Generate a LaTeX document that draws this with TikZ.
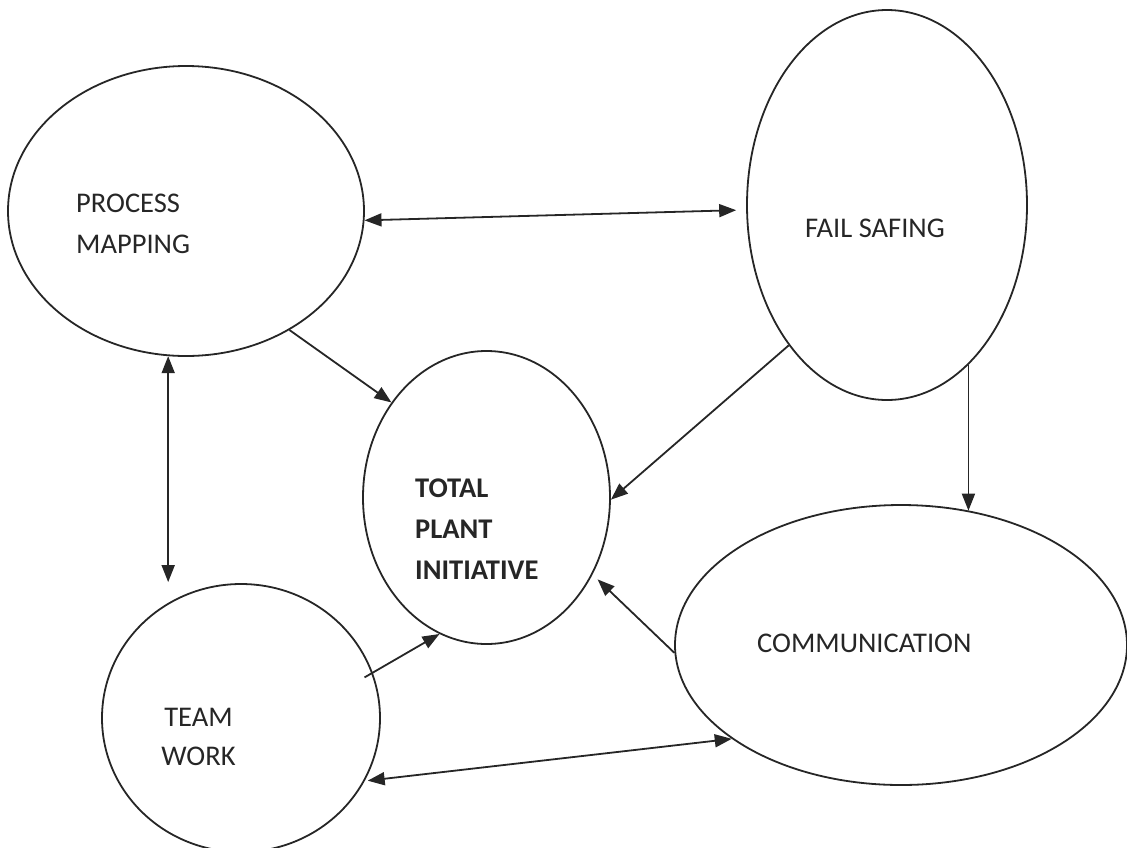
\documentclass[tikz,border=0pt]{standalone}
\usepackage{fontspec}
\setmainfont{Carlito}
\usetikzlibrary{shapes.geometric,arrows.meta}
\definecolor{ink}{RGB}{38,38,38}
\begin{document}
\begin{tikzpicture}[x=1pt,y=-1pt,
  bubble/.style={ellipse, draw=ink, line width=1.8pt, inner sep=0pt},
  lbl/.style={inner sep=0pt, text=ink, font=\fontsize{28.5}{41}\selectfont},
  tip/.tip={Triangle[length=17pt,width=13pt]},
  link/.style={draw=ink, line width=1.8pt, -tip},
  both/.style={draw=ink, line width=1.8pt, tip-tip},
]
\useasboundingbox (0,0) rectangle (1127,847);

% the five bubbles
\node[bubble, minimum width=356pt, minimum height=290pt] (pm)   at (186,211)     {};
\node[bubble, minimum width=280pt, minimum height=390pt] (fs)   at (887,205)     {};
\node[bubble, minimum width=247pt, minimum height=293pt] (tpi)  at (486.5,497.5) {};
\node[bubble, minimum width=452pt, minimum height=280pt] (comm) at (901,645)     {};
\node[bubble, minimum width=278pt, minimum height=268pt] (tw)   at (241,718)     {};

% their captions
\node[lbl, anchor=base west] (pmtext) at (76,212)
  {\begin{tabular}[t]{@{}l@{}}PROCESS\\MAPPING\end{tabular}};
\node[lbl, anchor=base west] (fstext) at (805,237) {FAIL SAFING};
\node[lbl, anchor=base west] (tpitext) at (415,497)
  {\bfseries\begin{tabular}[t]{@{}l@{}}TOTAL\\PLANT\\INITIATIVE\end{tabular}};
\node[lbl, anchor=base west] (commtext) at (757,652) {COMMUNICATION};
\node[lbl, anchor=base] (twtext) at (198.5,726)
  {\fontsize{28.5}{39}\selectfont\begin{tabular}[t]{@{}c@{}}TEAM\\WORK\end{tabular}};

% connectors
\draw[both, shorten >=10pt] (pm.-3.6) -- (fs.182.7);
\draw[link] (pm.-49.6) -- (tpi.135);
\draw[both, shorten >=1pt] (pm.263.5) -- (pm.263.5 |- tw.north);
\draw[link] (fs.235.9) -- (tpi.-1.6);
\draw[link] (fs.-63.4) -- (fs.-63.4 |- comm.63.8);
\draw[link, shorten <=-9.5pt] (tw.19.5) -- (tpi.251.9);
\draw[link, shorten >=7pt] (comm.182) -- (tpi.-36.6);
\draw[both, shorten <=3pt] (tw.-27.4) -- (comm.209);
\end{tikzpicture}
\end{document}
